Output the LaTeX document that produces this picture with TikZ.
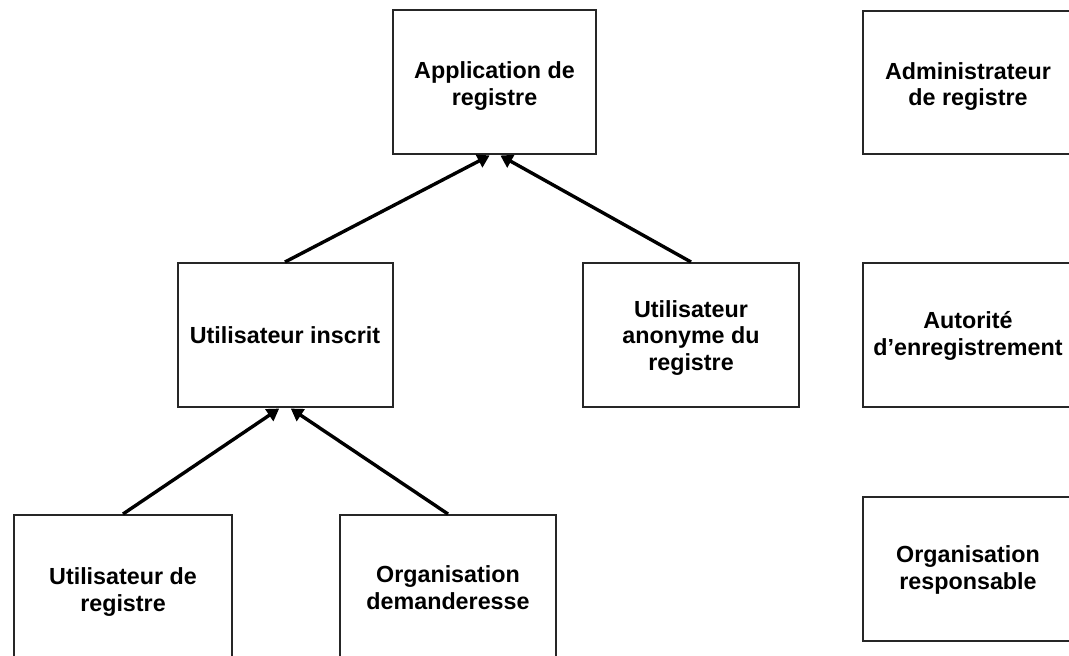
\documentclass[tikz,border=0pt]{standalone}
\usepackage{fontspec}
\setmainfont{Liberation Sans}
\usetikzlibrary{arrows.meta}
\tikzset{
  box/.style={draw=black!85, line width=2pt, fill=white, inner sep=0pt},
  lbl/.style={inner sep=0pt, align=center, font=\bfseries\fontsize{23.3}{26.8}\selectfont},
  arr/.style={line width=3.4pt, -{Triangle[length=12pt,width=14pt]}, shorten >=1pt}
}
\begin{document}
\begin{tikzpicture}[x=1pt, y=-1pt]
  \useasboundingbox (0,0) rectangle (1069,656);
  \fill[white] (0,0) rectangle (1069,656);
  \clip (0,0) rectangle (1069,656);

  % hierarchy of roles
  \node[box, minimum width=203pt, minimum height=144pt] (app)  at (494.5,82)  {};
  \node[box, minimum width=215pt, minimum height=144pt] (ui)   at (285,335)   {};
  \node[box, minimum width=216pt, minimum height=144pt] (anon) at (691,335)   {};
  \node[box, minimum width=218pt, minimum height=144pt] (udr)  at (123,587)   {};
  \node[box, minimum width=216pt, minimum height=144pt] (org)  at (448,587)   {};

  % stand-alone roles on the right
  \node[box, minimum width=210pt, minimum height=143pt] (admin) at (968,82.5) {};
  \node[box, minimum width=210pt, minimum height=144pt] (auto)  at (968,335)  {};
  \node[box, minimum width=210pt, minimum height=144pt] (resp)  at (968,569)  {};

  % role names
  \node[lbl] (app-t)   at ([yshift=-4pt]app.center)   {Application de\\registre};
  \node[lbl] (ui-t)    at (ui.center)                 {Utilisateur inscrit};
  \node[lbl] (anon-t)  at ([yshift=-3pt]anon.center)  {Utilisateur\\anonyme du\\registre};
  \node[lbl] (udr-t)   at ([yshift=-5pt]udr.center)   {Utilisateur de\\registre};
  \node[lbl] (org-t)   at ([yshift=-1pt]org.center)   {Organisation\\demanderesse};
  \node[lbl] (admin-t) at ([yshift=-4pt]admin.center) {Administrateur\\de registre};
  \node[lbl] (auto-t)  at ([yshift=-1pt]auto.center)  {Autorité\\d’enregistrement};
  \node[lbl] (resp-t)  at ([yshift=-1pt]resp.center)  {Organisation\\responsable};

  % specialisation links
  \draw[arr] (ui.north)   -- ([xshift=-4pt]app.south);
  \draw[arr] (anon.north) -- ([xshift=5pt]app.south);
  \draw[arr] (udr.north)  -- ([xshift=-5pt]ui.south);
  \draw[arr] (org.north)  -- ([xshift=5pt]ui.south);
\end{tikzpicture}
\end{document}
